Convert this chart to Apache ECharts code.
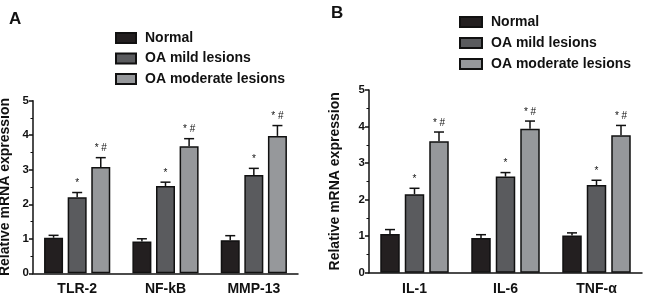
<!DOCTYPE html>
<html>
<head>
<meta charset="utf-8">
<script src="https://cdn.jsdelivr.net/npm/echarts@6/dist/echarts.min.js"></script>
<style>
  html, body { margin: 0; padding: 0; background: #fff; }
  #chart { width: 650px; height: 300px; }
</style>
</head>
<body>
<div id="chart"></div>
<script>
// panel A
const categoriesA = ['TLR-2', 'NF-kB', 'MMP-13'];
const normalA = [1.03, 0.92, 0.96];
const normalErrA = [0.07, 0.08, 0.13];
const mildA = [2.20, 2.53, 2.85];
const mildErrA = [0.14, 0.11, 0.19];
const moderateA = [3.08, 3.68, 3.98];
const moderateErrA = [0.27, 0.22, 0.30];

// panel B
const categoriesB = ['IL-1', 'IL-6', 'TNF-α'];
const normalB = [1.06, 0.95, 1.02];
const normalErrB = [0.12, 0.09, 0.07];
const mildB = [2.15, 2.63, 2.40];
const mildErrB = [0.16, 0.11, 0.13];
const moderateB = [3.60, 3.94, 3.76];
const moderateErrB = [0.25, 0.21, 0.27];

const groupNames = ['Normal', 'OA mild lesions', 'OA moderate lesions'];
const groupColors = ['#231f20', '#5a5b5e', '#96989b'];
const signifMarks = ['', '*', '* #']; // 标注：vs Normal / vs mild

const FONT = 'Liberation Sans, Arial, sans-serif';

// 每个面板的柱宽、间距（像素）
const panels = [
  { grid: 0, barW: 19, pitch: 23.6, values: [normalA, mildA, moderateA], errs: [normalErrA, mildErrA, moderateErrA] },
  { grid: 1, barW: 19.5, pitch: 24.5, values: [normalB, mildB, moderateB], errs: [normalErrB, mildErrB, moderateErrB] }
];

function makeAxisY(gridIndex, nameGap) {
  return {
    type: 'value',
    gridIndex: gridIndex,
    min: 0, max: 5, interval: 1,
    name: 'Relative mRNA expression',
    nameLocation: 'middle',
    nameGap: nameGap,
    nameRotate: 90,
    nameTextStyle: { fontFamily: FONT, fontWeight: 'bold', fontSize: 14, color: '#111' },
    axisLine: { show: true, lineStyle: { color: '#111', width: 1.5 } },
    axisTick: { show: true, length: 4, lineStyle: { color: '#111', width: 1.5 } },
    minorTick: { show: true, splitNumber: 2, length: 2.5, lineStyle: { color: '#111', width: 1 } },
    axisLabel: { fontFamily: FONT, fontWeight: 'bold', fontSize: 11.5, color: '#111', margin: 4 },
    splitLine: { show: false }
  };
}

function makeAxisX(gridIndex, cats) {
  return {
    type: 'category',
    gridIndex: gridIndex,
    data: cats,
    axisLine: { lineStyle: { color: '#111', width: 1.5 } },
    axisTick: { alignWithLabel: true, length: 4, lineStyle: { color: '#111', width: 1.5 } },
    axisLabel: { fontFamily: FONT, fontWeight: 'bold', fontSize: 14, color: '#111', margin: 9 }
  };
}

const series = [];
panels.forEach(p => {
  groupNames.forEach((name, k) => {
    series.push({
      type: 'bar',
      name: name,
      xAxisIndex: p.grid,
      yAxisIndex: p.grid,
      data: p.values[k],
      barWidth: p.barW,
      barGap: ((p.pitch - p.barW) / p.barW * 100) + '%',
      itemStyle: { color: groupColors[k], borderColor: '#111', borderWidth: 1.5 },
      z: 2
    });
  });
  // 误差线 + 显著性标注
  const errData = [];
  groupNames.forEach((name, k) => {
    p.values[k].forEach((v, i) => {
      errData.push([i, v, v + p.errs[k][i], k]);
    });
  });
  series.push({
    type: 'custom',
    xAxisIndex: p.grid,
    yAxisIndex: p.grid,
    data: errData,
    z: 3,
    renderItem: function (params, api) {
      const k = api.value(3);
      const off = (k - 1) * p.pitch;
      const base = api.coord([api.value(0), api.value(1)]);
      const top = api.coord([api.value(0), api.value(2)]);
      const x = base[0] + off;
      const cap = 5;
      const children = [
        { type: 'line', shape: { x1: x, y1: base[1], x2: x, y2: top[1] }, style: { stroke: '#111', lineWidth: 1.5 } },
        { type: 'line', shape: { x1: x - cap, y1: top[1], x2: x + cap, y2: top[1] }, style: { stroke: '#111', lineWidth: 1.5 } }
      ];
      if (signifMarks[k]) {
        children.push({
          type: 'text',
          style: {
            text: signifMarks[k], x: x, y: top[1] - 4,
            align: 'center', verticalAlign: 'bottom',
            font: '10px ' + FONT, fill: '#111'
          }
        });
      }
      return { type: 'group', children: children };
    }
  });
});

const chart = echarts.init(document.getElementById('chart'));
chart.setOption({
  animation: false,
  backgroundColor: '#fff',
  title: [
    { text: 'A', left: 4, top: 6, textStyle: { fontFamily: FONT, fontWeight: 'bold', fontSize: 17, color: '#111' } },
    { text: 'B', left: 326, top: 0, textStyle: { fontFamily: FONT, fontWeight: 'bold', fontSize: 17, color: '#111' } }
  ],
  legend: [
    {
      data: groupNames, orient: 'vertical', left: 110, top: 26, itemGap: 6.5,
      itemWidth: 20, itemHeight: 10, icon: 'rect',
      textStyle: { fontFamily: FONT, fontWeight: 'bold', fontSize: 14, color: '#111', padding: [0, 0, 0, 4] }
    },
    {
      data: groupNames, orient: 'vertical', left: 454, top: 10, itemGap: 7,
      itemWidth: 22, itemHeight: 10, icon: 'rect',
      textStyle: { fontFamily: FONT, fontWeight: 'bold', fontSize: 14, color: '#111', padding: [0, 0, 0, 4] }
    }
  ],
  grid: [
    { left: 33, right: 352, top: 100.7, bottom: 26.7, outerBoundsMode: 'none' },
    { left: 369, right: 8, top: 90, bottom: 27.3, outerBoundsMode: 'none' }
  ],
  xAxis: [makeAxisX(0, categoriesA), makeAxisX(1, categoriesB)],
  yAxis: [makeAxisY(0, 21), makeAxisY(1, 27)],
  series: series
});
</script>
</body>
</html>
